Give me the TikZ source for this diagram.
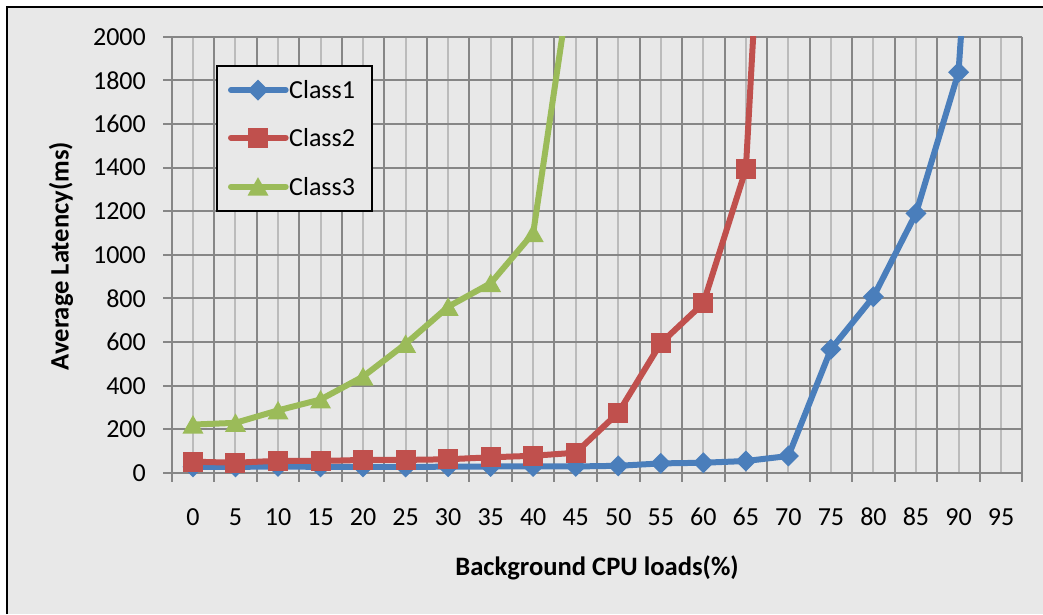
\documentclass[tikz,border=0pt]{standalone}
\usepackage{fontspec}
\setmainfont{Carlito}
\definecolor{chartbg}{HTML}{E8E8E8}
\definecolor{gridmajor}{HTML}{868686}
\definecolor{gridminor}{HTML}{BBBBBB}
\definecolor{cA}{HTML}{4A7EBB}
\definecolor{cB}{HTML}{C0504D}
\definecolor{cC}{HTML}{9BBB59}
% category centre and value -> canvas position (1 unit = 1pt, y downwards)
\newcommand{\cx}[1]{171.7+42.53*(#1+0.5)}
\newcommand{\vy}[1]{473-0.21815*(#1)}
\tikzset{
  ticklabel/.style={font=\fontsize{26}{30}\selectfont, inner sep=0pt},
  axistitle/.style={font=\fontsize{26.6}{30}\selectfont\bfseries, inner sep=0pt},
  seriesline/.style={line width=6pt, line join=round, line cap=round},
  majorline/.style={draw=gridmajor, line width=2pt},
  minorline/.style={draw=gridminor, line width=2pt},
}
% marker shapes, centred at the given point
\newcommand{\diamondmark}[2]{\fill[#1] (#2) +(0,-10.5) -- +(10.5,0) -- +(0,10.5) -- +(-10.5,0) -- cycle;}
\newcommand{\squaremark}[2]{\fill[#1] (#2) +(-10,-10) rectangle +(10,10);}
\newcommand{\trianglemark}[2]{\fill[#1] (#2) +(0,-9.5) -- +(10.5,9) -- +(-10.5,9) -- cycle;}
\begin{document}
\begin{tikzpicture}[x=1pt,y=-1pt]
\useasboundingbox (0,0) rectangle (1043,614);
% page and chart area
\fill[white] (0,0) rectangle (1043,614);
\fill[chartbg] (7,7) rectangle (1043,614);
\draw[black, line width=2.2pt] (7,614) -- (7,7) -- (1043,7);

% minor vertical grid lines at category centres
\foreach \i in {0,...,19}
  {\draw[minorline] ({\cx{\i}},36.7) -- ({\cx{\i}},473);}
% major vertical grid lines at category boundaries, with tick marks
\foreach \i in {0,...,20}
  {\draw[majorline] ({171.7+42.53*\i},36.7) -- ({171.7+42.53*\i},481.5);}
% horizontal grid lines every 200 ms
\foreach \v in {0,200,...,2000}
  {\draw[majorline] (163,{\vy{\v}}) -- (1022.3,{\vy{\v}});}

% value axis labels
\foreach \v in {0,200,...,2000}
  {\node[ticklabel, anchor=east] (yt\v) at (146,{\vy{\v}}) {\v};}
% category axis labels
\foreach \c [count=\i from 0] in {0,5,...,95}
  {\node[ticklabel] (xt\c) at ({\cx{\i}},517) {\c};}

% axis titles
\node[axistitle, rotate=90] (ytitle) at (61,256) {Average Latency(ms)};
\node[axistitle] (xtitle) at (597,568) {Background CPU loads(\%)};

% data series, clipped at the top of the plot area
\begin{scope}
\clip (0,36.7) rectangle (1043,614);
% Class1
\draw[seriesline, cA] ({\cx{0}},{\vy{28}})
  \foreach \v [count=\i from 1] in {28,30,28,28,28,29,30,30,30,33,44,47,55,78,567,808,1190,1837,4730}
  { -- ({\cx{\i}},{\vy{\v}}) };
\foreach \v [count=\i from 0] in {28,28,30,28,28,28,29,30,30,30,33,44,47,55,78,567,808,1190,1837}
  {\diamondmark{cA}{{\cx{\i}},{\vy{\v}}}}
% Class2
\draw[seriesline, cB] ({\cx{0}},{\vy{52}})
  \foreach \v [count=\i from 1] in {47,56,55,60,60,63,72,79,93,276,595,778,1393,4930}
  { -- ({\cx{\i}},{\vy{\v}}) };
\foreach \v [count=\i from 0] in {52,47,56,55,60,60,63,72,79,93,276,595,778,1393}
  {\squaremark{cB}{{\cx{\i}},{\vy{\v}}}}
% Class3
\draw[seriesline, cC] ({\cx{0}},{\vy{222}})
  \foreach \v [count=\i from 1] in {230,287,337,442,592,762,870,1100,2420}
  { -- ({\cx{\i}},{\vy{\v}}) };
\foreach \v [count=\i from 0] in {222,230,287,337,442,592,762,870,1100}
  {\trianglemark{cC}{{\cx{\i}},{\vy{\v}}}}
\end{scope}

% legend
\draw[black, line width=2pt, fill=chartbg] (216.7,65.7) rectangle (372.3,210.7);
\draw[seriesline, cA] (231,90) -- (285.7,90);
\diamondmark{cA}{258,90}
\node[ticklabel, anchor=west] (legA) at (289,90) {Class1};
\draw[seriesline, cB] (231,137.7) -- (285.7,137.7);
\squaremark{cB}{258,137.7}
\node[ticklabel, anchor=west] (legB) at (289,137.7) {Class2};
\draw[seriesline, cC] (231,186.7) -- (285.7,186.7);
\trianglemark{cC}{258,186.7}
\node[ticklabel, anchor=west] (legC) at (289,186.7) {Class3};
\end{tikzpicture}
\end{document}
